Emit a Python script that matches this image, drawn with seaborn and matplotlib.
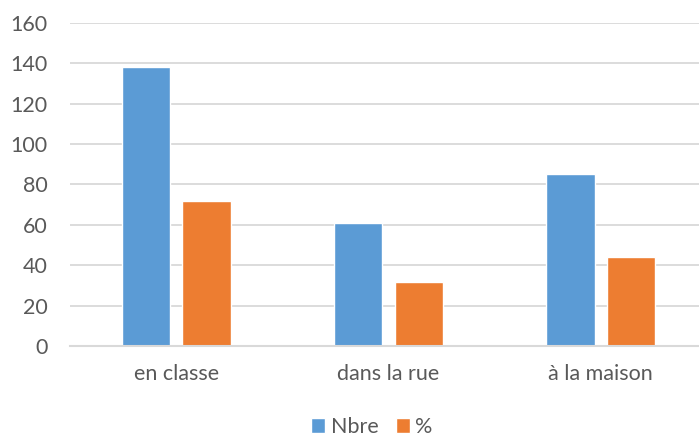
import pandas as pd
import matplotlib
matplotlib.use('Agg')
import matplotlib.pyplot as plt
import seaborn as sns

# données
lieux = ['en classe', 'dans la rue', 'à la maison']
nbre = [138, 61, 85]
pourcent = [71.9, 31.8, 44.3]
series = ['Nbre', '%']
couleurs = ['#5B9BD5', '#ED7D31']

df = pd.DataFrame({
    'lieu': lieux * 2,
    'serie': [series[0]] * len(lieux) + [series[1]] * len(lieux),
    'valeur': nbre + pourcent,
})

sns.set_theme(style='white')
plt.rcParams['font.family'] = ['Lato', 'DejaVu Sans']

fig = plt.figure(figsize=(6.99, 4.41), dpi=100)
ax = fig.add_axes([70 / 699, 95 / 441, 637 / 699, 323 / 441])

sns.barplot(data=df, x='lieu', y='valeur', hue='serie', order=lieux,
            hue_order=series, palette=couleurs, width=0.57, gap=0.2,
            saturation=1, ax=ax, legend=True)

ax.set_ylim(0, 160)
ax.set_xlim(-0.5, 2.5)
ax.set_yticks(range(0, 161, 20))
ax.yaxis.grid(True, color='#d9d9d9', linewidth=1.3)
ax.set_axisbelow(True)
for s in ['top', 'right', 'left']:
    ax.spines[s].set_visible(False)
ax.spines['bottom'].set_color('#d9d9d9')
ax.spines['bottom'].set_linewidth(1.5)
ax.tick_params(axis='both', length=0, colors='#595959', labelsize=15.5)
ax.tick_params(axis='y', pad=16)
ax.tick_params(axis='x', pad=13)
ax.set_xlabel('')
ax.set_ylabel('')

ax.get_legend().remove()
handles, labels = ax.get_legend_handles_labels()
fig.legend(handles, labels, loc='lower center', bbox_to_anchor=(0.532, -0.035),
           ncol=2, frameon=False, fontsize=15.5, handlelength=0.65, handleheight=0.65,
           handletextpad=0.25, columnspacing=0.8, labelcolor='#595959')

fig.savefig('out.png', dpi=100)
